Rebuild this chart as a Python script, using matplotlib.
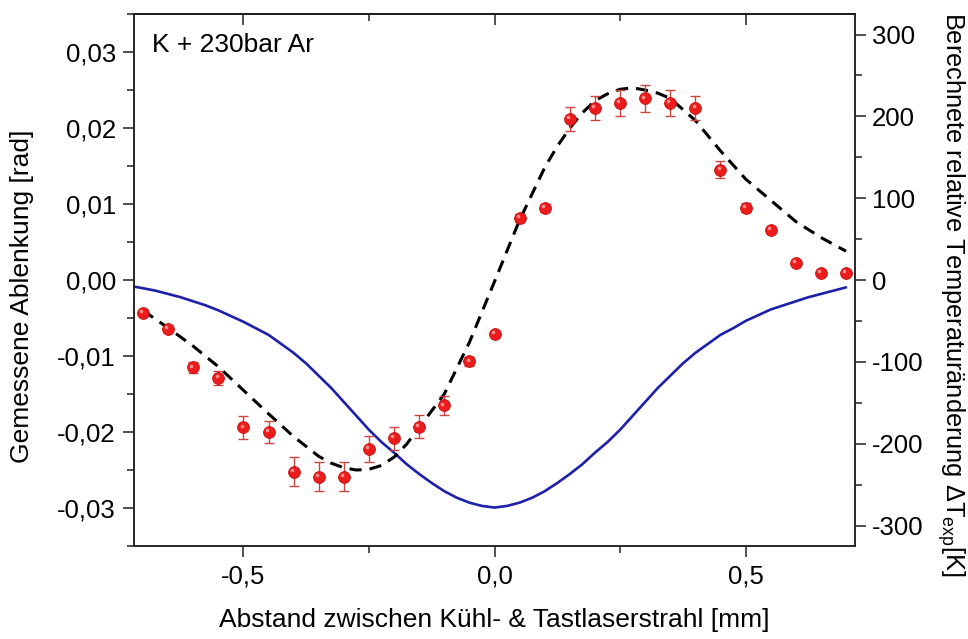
import numpy as np
import matplotlib
matplotlib.use('Agg')
import matplotlib.pyplot as plt
from matplotlib.ticker import MultipleLocator, FuncFormatter
from matplotlib import transforms

plt.rcParams['font.family'] = ['Liberation Sans', 'DejaVu Sans']
plt.rcParams['mathtext.fontset'] = 'custom'
plt.rcParams['mathtext.rm'] = 'Liberation Sans'
plt.rcParams['mathtext.it'] = 'Liberation Sans'

# measured deflection (left axis)
x_meas = [-0.70, -0.65, -0.60, -0.55, -0.50, -0.45, -0.40, -0.35, -0.30, -0.25,
          -0.20, -0.15, -0.10, -0.05, 0.00, 0.05, 0.10, 0.15, 0.20, 0.25,
          0.30, 0.35, 0.40, 0.45, 0.50, 0.55, 0.60, 0.65, 0.70]
y_meas = [-0.0043, -0.0064, -0.0115, -0.0129, -0.0194, -0.0200, -0.0252, -0.0259, -0.0259, -0.0222,
          -0.0208, -0.0193, -0.0165, -0.0107, -0.0071, 0.0082, 0.0095, 0.0212, 0.0226, 0.0233,
          0.0239, 0.0233, 0.0226, 0.0145, 0.0095, 0.0066, 0.0023, 0.0009, 0.0009]
y_err = [0.0004, 0.0004, 0.0007, 0.0009, 0.0015, 0.0015, 0.0019, 0.0019, 0.0019, 0.0017,
         0.0015, 0.0015, 0.0013, 0.0006, 0.0004, 0.0005, 0.0005, 0.0016, 0.0016, 0.0017,
         0.0018, 0.0017, 0.0016, 0.0011, 0.0006, 0.0004, 0.0003, 0.0003, 0.0003]

# fitted deflection (dashed, left axis)
x_fit = [-0.70, -0.65, -0.60, -0.55, -0.50, -0.45, -0.40, -0.35, -0.325, -0.30, -0.275, -0.25,
         -0.225, -0.20, -0.175, -0.15, -0.10, -0.05, 0.00, 0.05, 0.10, 0.125, 0.15, 0.175, 0.20,
         0.225, 0.25, 0.275, 0.30, 0.325, 0.35, 0.40, 0.45, 0.50, 0.55, 0.60, 0.65, 0.70]
y_fit = [-0.0040, -0.0063, -0.0087, -0.0114, -0.0145, -0.0176, -0.0206, -0.0232, -0.0241, -0.0247, -0.0250, -0.0249,
         -0.0244, -0.0233, -0.0216, -0.0194, -0.0150, -0.0082, -0.0002, 0.0079, 0.0148, 0.0176, 0.0200, 0.0220, 0.0236,
         0.0245, 0.0251, 0.0253, 0.0250, 0.0246, 0.0239, 0.0210, 0.0170, 0.0133, 0.0105, 0.0077, 0.0056, 0.0038]

# calculated temperature change (right axis)
x_temp = [-0.718, -0.70, -0.675, -0.65, -0.625, -0.60, -0.575, -0.55, -0.525, -0.50,
          -0.475, -0.45, -0.425, -0.40, -0.375, -0.35, -0.325, -0.30, -0.275, -0.25,
          -0.225, -0.20, -0.175, -0.15, -0.125, -0.10, -0.075, -0.05, -0.025, 0.00,
          0.025, 0.05, 0.075, 0.10, 0.125, 0.15, 0.175, 0.20, 0.225, 0.25,
          0.275, 0.30, 0.325, 0.35, 0.375, 0.40, 0.425, 0.45, 0.475, 0.50,
          0.525, 0.55, 0.575, 0.60, 0.625, 0.65, 0.675, 0.70]
y_temp = [-8, -10, -13, -17, -21, -26, -31, -37, -44, -51,
          -59, -67, -78, -89, -102, -117, -132, -149, -166, -183,
          -198, -211, -225, -237, -248, -258, -266, -272, -276, -278,
          -276, -272, -266, -258, -248, -237, -225, -211, -198, -183,
          -166, -149, -132, -117, -102, -89, -78, -67, -59, -50,
          -43, -36, -31, -26, -21, -17, -13, -9]


def comma_fmt(nd):
    def f(v, pos):
        if abs(v) < 1e-12:
            v = 0.0
        return ('{:.%df}' % nd).format(v).replace('.', ',')
    return FuncFormatter(f)


fig = plt.figure(figsize=(9.68, 6.39), dpi=100)
ax = fig.add_axes([0.1384, 0.1455, 0.7449, 0.8325])
ax2 = ax.twinx()
ax.set_zorder(ax2.get_zorder() + 1)
ax.patch.set_visible(False)

fs = 18.5
ax2.plot(x_temp, y_temp, color='#1c20aa', lw=1.9, solid_capstyle='round')

ax.plot(x_fit, y_fit, color='black', lw=2.2, ls=(0, (4, 2.6)))
ax.errorbar(x_meas, y_meas, yerr=y_err, fmt='none', ecolor='#c8463c',
            elinewidth=1.0, capsize=3.6, capthick=1.0, zorder=3)
ax.plot(x_meas, y_meas, 'o', ms=8.5, mfc='#ec1c1c', mec='#c01010', mew=0.6, zorder=4)
hl = transforms.offset_copy(ax.transData, fig=fig, x=-1.3, y=1.3, units='points')
ax.plot(x_meas, y_meas, 'o', ms=2.6, mfc='#ff9a9a', mec='none', alpha=0.9,
        transform=hl, zorder=5)

ax.set_xlim(-0.718, 0.718)
ax.set_ylim(-0.035, 0.035)
ax2.set_ylim(-325, 325)

ax.xaxis.set_major_locator(MultipleLocator(0.5))
ax.xaxis.set_minor_locator(MultipleLocator(0.25))
ax.yaxis.set_major_locator(MultipleLocator(0.01))
ax.yaxis.set_minor_locator(MultipleLocator(0.005))
ax2.yaxis.set_major_locator(MultipleLocator(100))
ax2.yaxis.set_minor_locator(MultipleLocator(50))
ax.xaxis.set_major_formatter(comma_fmt(1))
ax.yaxis.set_major_formatter(comma_fmt(2))
ax2.yaxis.set_major_formatter(comma_fmt(0))

for a in (ax, ax2):
    for s in a.spines.values():
        s.set_linewidth(1.1)
        s.set_color('#222222')
    a.tick_params(which='major', direction='out', length=8, width=1.1,
                  labelsize=fs, color='#222222', pad=5)
    a.tick_params(which='minor', direction='out', length=5, width=1.1, color='#222222')
ax2.tick_params(which='major', pad=4)

top = ax.secondary_xaxis('top')
top.xaxis.set_major_locator(MultipleLocator(0.5))
top.xaxis.set_minor_locator(MultipleLocator(0.25))
top.tick_params(which='major', direction='in', length=8, width=1.1, labeltop=False, color='#222222')
top.tick_params(which='minor', direction='in', length=5, width=1.1, color='#222222')
top.spines['top'].set_linewidth(1.1)

ax.set_xlabel('Abstand zwischen Kühl- & Tastlaserstrahl [mm]', fontsize=19, labelpad=14)
ax.set_ylabel('Gemessene Ablenkung [rad]', fontsize=19, va='center', ha='center',
              rotation_mode='anchor')
ax.yaxis.set_label_coords(-0.155, 0.47)
ax2.set_ylabel(r'Berechnete relative Temperaturänderung $\Delta$T$_{\mathrm{exp}}$[K]',
               fontsize=18.3, rotation=270, va='center', ha='center', rotation_mode='anchor')
ax2.yaxis.set_label_coords(1.133, 0.474)

ax.text(0.025, 0.965, 'K + 230bar Ar', transform=ax.transAxes, fontsize=19,
        ha='left', va='top')

fig.savefig('out.png', dpi=100)
